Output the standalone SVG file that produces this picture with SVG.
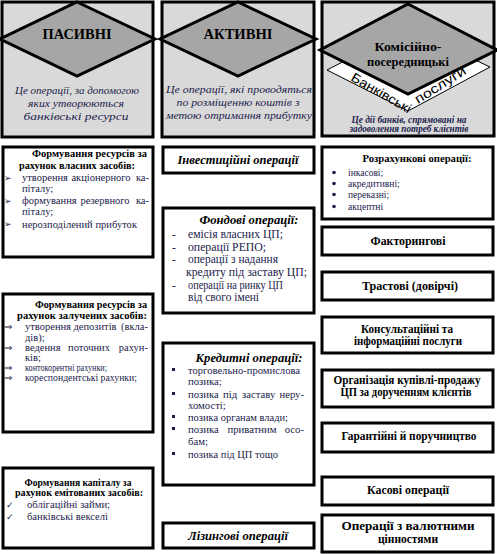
<svg xmlns="http://www.w3.org/2000/svg" width="497" height="554" viewBox="0 0 497 554" font-family="Liberation Serif, Times New Roman, serif">
<style>
.panel{fill:#d9d9d9;stroke:#000;stroke-width:3}
.dia{fill:#a6a6a6;stroke:#000;stroke-width:3}
.box{fill:#fff;stroke:#000;stroke-width:3}
.t{fill:#000}
.b{font-weight:bold}
.i{font-style:italic}
.c{text-anchor:middle}
.e{text-anchor:end}
.n{fill:#1c1c4c}
.sym{fill:#1c1c4c}
</style>
<rect width="497" height="554" fill="#fff"/>

<g id="passive-header">
<rect class="panel" x="2" y="2" width="151" height="135"/>
<polygon class="dia" points="77,2 155,39 77,76 0,39"/>
<text class="t b c" x="77" y="39" font-size="14.5" textLength="69" lengthAdjust="spacingAndGlyphs">ПАСИВНІ</text>
<text class="t i c n" x="77" y="94" font-size="11" textLength="124" lengthAdjust="spacingAndGlyphs">Це операції, за допомогою</text>
<text class="t i c n" x="76" y="107" font-size="11" textLength="96" lengthAdjust="spacingAndGlyphs">яких утворюються</text>
<text class="t i c n" x="76" y="120" font-size="11" textLength="105" lengthAdjust="spacingAndGlyphs">банківські ресурси</text>
</g>

<g id="active-header">
<rect class="panel" x="162" y="2" width="152" height="135"/>
<polygon class="dia" points="238,2 316,39 238,76 160,39"/>
<text class="t b c" x="238" y="39" font-size="14.5" textLength="69" lengthAdjust="spacingAndGlyphs">АКТИВНІ</text>
<text class="t i c n" x="239" y="93" font-size="11" textLength="146" lengthAdjust="spacingAndGlyphs">Це операції, які проводяться</text>
<text class="t i c n" x="238" y="106" font-size="11" textLength="123" lengthAdjust="spacingAndGlyphs">по розміщенню коштів з</text>
<text class="t i c n" x="239" y="119" font-size="11" textLength="146" lengthAdjust="spacingAndGlyphs">метою отримання прибутку</text>
</g>

<g id="commission-header">
<rect class="panel" x="322" y="2" width="172" height="134"/>
<polygon points="327,70 408,28 490,67 408,111" fill="#fff" stroke="#000" stroke-width="1"/>
<polygon class="dia" points="408,4 497,50 408,94 320,50"/>
<text class="t b c" x="408" y="51" font-size="12.5" textLength="67" lengthAdjust="spacingAndGlyphs">Комісійно-</text>
<text class="t b c" x="408" y="66" font-size="12.5" textLength="82" lengthAdjust="spacingAndGlyphs">посередницькі</text>
<g font-family="Liberation Sans, Arial, sans-serif" font-size="13">
<text transform="translate(350,80) rotate(30)" textLength="67" lengthAdjust="spacingAndGlyphs">Банківські</text>
<text transform="translate(418,104) rotate(-32)" textLength="58" lengthAdjust="spacingAndGlyphs">послуги</text>
</g>
<text class="t b i c n" x="409" y="123" font-size="9.6" textLength="115" lengthAdjust="spacingAndGlyphs">Це дії банків, спрямовані на</text>
<text class="t b i c n" x="409" y="132" font-size="9.6" textLength="119" lengthAdjust="spacingAndGlyphs">задоволення потреб клієнтів</text>
</g>

<g id="own-funds">
<rect class="box" x="3" y="147" width="150" height="110"/>
<text class="t b" x="32" y="157" font-size="11" textLength="115" lengthAdjust="spacingAndGlyphs">Формування ресурсів за</text>
<text class="t b" x="19" y="169" font-size="11" textLength="116" lengthAdjust="spacingAndGlyphs">рахунок власних засобів:</text>
<g class="sym" font-family="DejaVu Sans, sans-serif" font-size="9">
<text x="4" y="181">➢</text>
<text x="4" y="204">➢</text>
<text x="4" y="227">➢</text>
</g>
<g class="t n" font-size="10.5">
<text x="22" y="181">утворення</text>
<text class="c" x="101" y="181">акціонерного</text>
<text class="e" x="149" y="181">ка-</text>
<text x="22" y="192">піталу;</text>
<text x="22" y="204">формування</text>
<text class="c" x="105" y="204">резервного</text>
<text class="e" x="149" y="204">ка-</text>
<text x="22" y="215">піталу;</text>
<text x="22" y="228" textLength="115" lengthAdjust="spacingAndGlyphs">нерозподілений прибуток</text>
</g>
</g>

<g id="borrowed-funds">
<rect class="box" x="3" y="294" width="150" height="138"/>
<text class="t b" x="35" y="308" font-size="10.5" textLength="112" lengthAdjust="spacingAndGlyphs">Формування ресурсів за</text>
<text class="t b" x="17" y="319" font-size="10.5" textLength="130" lengthAdjust="spacingAndGlyphs">рахунок залучених засобів:</text>
<g class="sym" font-family="DejaVu Sans, sans-serif" font-size="10">
<text x="4" y="330">⇒</text>
<text x="4" y="351">⇒</text>
<text x="4" y="371">⇒</text>
<text x="4" y="381">⇒</text>
</g>
<g class="t n" font-size="10.5">
<text x="25" y="330">утворення</text>
<text class="c" x="95" y="330">депозитів</text>
<text class="e" x="148" y="330">(вкла-</text>
<text x="25" y="341">дів);</text>
<text x="25" y="351">ведення</text>
<text class="c" x="89" y="351">поточних</text>
<text class="e" x="148" y="351">рахун-</text>
<text x="25" y="361">ків;</text>
<text x="25" y="371" textLength="82" lengthAdjust="spacingAndGlyphs">контокорентні рахунки;</text>
<text x="25" y="381" textLength="112" lengthAdjust="spacingAndGlyphs">кореспондентські рахунки;</text>
</g>
</g>

<g id="issued-funds">
<rect class="box" x="3" y="468" width="150" height="80"/>
<text class="t b c" x="78" y="486" font-size="10.5" textLength="107" lengthAdjust="spacingAndGlyphs">Формування капіталу за</text>
<text class="t b c" x="79" y="496" font-size="10.5" textLength="128" lengthAdjust="spacingAndGlyphs">рахунок емітованих засобів:</text>
<g class="sym" font-family="DejaVu Sans, sans-serif" font-size="9">
<text x="6" y="508">✓</text>
<text x="6" y="520">✓</text>
</g>
<text class="t n" x="27" y="508" font-size="10.5" textLength="83" lengthAdjust="spacingAndGlyphs">облігаційні займи;</text>
<text class="t n" x="27" y="520" font-size="10.5" textLength="81" lengthAdjust="spacingAndGlyphs">банківські векселі</text>
</g>

<g id="investment">
<rect class="box" x="163" y="147" width="151" height="26"/>
<text class="t b i c" x="238" y="164" font-size="12" textLength="121" lengthAdjust="spacingAndGlyphs">Інвестиційні операції</text>
</g>

<g id="stock">
<rect class="box" x="163" y="208" width="151" height="105"/>
<text class="t b i c" x="249" y="224" font-size="13" textLength="99" lengthAdjust="spacingAndGlyphs">Фондові операції:</text>
<g class="t n" font-size="11.5">
<text x="172" y="238">-</text>
<text x="172" y="251">-</text>
<text x="172" y="263">-</text>
<text x="172" y="289">-</text>
<text x="188" y="238" textLength="95" lengthAdjust="spacingAndGlyphs">емісія власних ЦП;</text>
<text x="188" y="251" textLength="78" lengthAdjust="spacingAndGlyphs">операції РЕПО;</text>
<text x="188" y="263" textLength="90" lengthAdjust="spacingAndGlyphs">операції з надання</text>
<text x="186" y="276" textLength="121" lengthAdjust="spacingAndGlyphs">кредиту під заставу ЦП;</text>
<text x="188" y="289" textLength="95" lengthAdjust="spacingAndGlyphs">операції на ринку ЦП</text>
<text x="188" y="301" textLength="71" lengthAdjust="spacingAndGlyphs">від свого імені</text>
</g>
</g>

<g id="credit">
<rect class="box" x="163" y="343" width="151" height="142"/>
<text class="t b i c" x="249" y="362" font-size="13" textLength="107" lengthAdjust="spacingAndGlyphs">Кредитні операції:</text>
<g fill="#1c1c4c">
<rect x="172" y="368" width="3" height="3"/>
<rect x="172" y="392" width="3" height="3"/>
<rect x="172" y="415" width="3" height="3"/>
<rect x="172" y="427" width="3" height="3"/>
<rect x="172" y="452" width="3" height="3"/>
</g>
<g class="t n" font-size="10.7">
<text x="188" y="374" textLength="112" lengthAdjust="spacingAndGlyphs">торговельно-промислова</text>
<text x="188" y="385">позика;</text>
<text x="188" y="398">позика</text>
<text x="223" y="398">під</text>
<text x="242" y="398">заставу</text>
<text class="e" x="304" y="398">неру-</text>
<text x="188" y="409">хомості;</text>
<text x="188" y="421" textLength="100" lengthAdjust="spacingAndGlyphs">позика органам влади;</text>
<text x="188" y="433">позика</text>
<text class="c" x="252" y="433">приватним</text>
<text class="e" x="304" y="433">осо-</text>
<text x="188" y="445">бам;</text>
<text x="188" y="458" textLength="90" lengthAdjust="spacingAndGlyphs">позика під ЦП тощо</text>
</g>
</g>

<g id="leasing">
<rect class="box" x="163" y="523" width="151" height="25"/>
<text class="t b i c" x="238" y="540" font-size="11.5" textLength="100" lengthAdjust="spacingAndGlyphs">Лізингові операції</text>
</g>

<g id="settlement">
<rect class="box" x="322" y="147" width="171" height="72"/>
<text class="t b c" x="417" y="162" font-size="10.3" textLength="109" lengthAdjust="spacingAndGlyphs">Розрахункові операції:</text>
<g fill="#1c1c4c">
<circle cx="334" cy="172.5" r="1.8"/>
<circle cx="334" cy="183.5" r="1.8"/>
<circle cx="334" cy="194.5" r="1.8"/>
<circle cx="334" cy="206.5" r="1.8"/>
</g>
<g class="t n" font-size="9.5">
<text x="348" y="176">інкасові;</text>
<text x="348" y="187">акредитивні;</text>
<text x="348" y="198">переказні;</text>
<text x="348" y="210">акцептні</text>
</g>
</g>

<g id="factoring">
<rect class="box" x="322" y="227" width="171" height="28"/>
<text class="t b c" x="408" y="245" font-size="12.5" textLength="75" lengthAdjust="spacingAndGlyphs">Факторингові</text>
</g>

<g id="trust">
<rect class="box" x="322" y="272" width="171" height="28"/>
<text class="t b c" x="410" y="290" font-size="12.5" textLength="96" lengthAdjust="spacingAndGlyphs">Трастові (довірчі)</text>
</g>

<g id="consulting">
<rect class="box" x="322" y="317" width="171" height="36"/>
<text class="t b c" x="407" y="333" font-size="11.5" textLength="92" lengthAdjust="spacingAndGlyphs">Консультаційні та</text>
<text class="t b c" x="408" y="345" font-size="11.5" textLength="108" lengthAdjust="spacingAndGlyphs">інформаційні послуги</text>
</g>

<g id="securities-trade">
<rect class="box" x="322" y="370" width="171" height="37"/>
<text class="t b c" x="407" y="384" font-size="11.5" textLength="147" lengthAdjust="spacingAndGlyphs">Організація купівлі-продажу</text>
<text class="t b c" x="406" y="396" font-size="11.5" textLength="131" lengthAdjust="spacingAndGlyphs">ЦП за дорученням клієнтів</text>
</g>

<g id="guarantee">
<rect class="box" x="322" y="423" width="171" height="29"/>
<text class="t b c" x="409" y="440" font-size="11.5" textLength="135" lengthAdjust="spacingAndGlyphs">Гарантійні й поручництво</text>
</g>

<g id="cash">
<rect class="box" x="322" y="477" width="171" height="28"/>
<text class="t b c" x="408" y="494" font-size="12.5" textLength="82" lengthAdjust="spacingAndGlyphs">Касові операції</text>
</g>

<g id="currency">
<rect class="box" x="322" y="515" width="171" height="37"/>
<text class="t b c" x="408" y="530" font-size="12.5" textLength="133" lengthAdjust="spacingAndGlyphs">Операції з валютними</text>
<text class="t b c" x="408" y="543" font-size="12.5" textLength="60" lengthAdjust="spacingAndGlyphs">цінностями</text>
</g>
</svg>
